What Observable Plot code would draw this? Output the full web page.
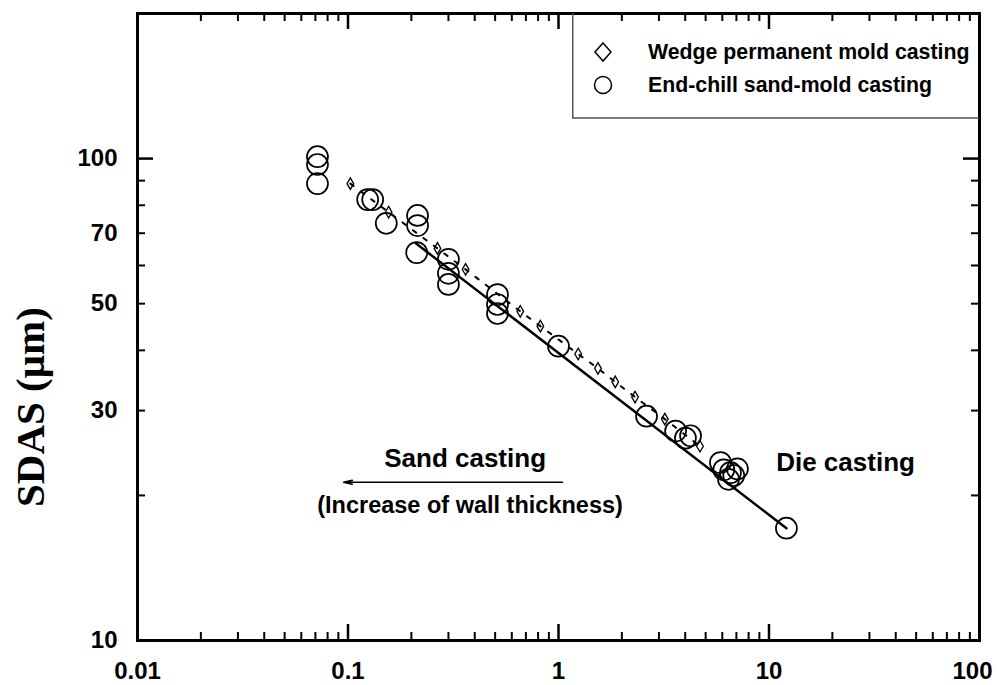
<!DOCTYPE html>
<html><head><meta charset="utf-8">
<script src="https://cdn.jsdelivr.net/npm/d3@7"></script>
<script src="https://cdn.jsdelivr.net/npm/@observablehq/plot@0.6"></script>
<style>
body{margin:0;background:#fff;}
#wrap{position:relative;width:997px;height:685px;}
#legend{position:absolute;left:572px;top:13px;}
</style></head><body><div id="wrap"></div>
<script>
// End-chill sand-mold casting (circles): wall thickness vs SDAS (µm)
const circleX = [0.0716, 0.0716, 0.0716, 0.124, 0.131, 0.152, 0.214, 0.214, 0.212, 0.30, 0.30, 0.30, 0.513, 0.513, 0.513, 1.0, 2.62, 3.6, 4.01, 4.24, 5.88, 6.1, 6.42, 6.56, 6.8, 7.08, 12.1];
const circleY = [100.9, 97.2, 88.7, 82.2, 82.2, 73.4, 76.2, 72.6, 63.8, 61.8, 57.8, 54.8, 52.2, 49.8, 47.7, 40.8, 29.2, 27.2, 26.3, 26.6, 23.4, 22.6, 21.6, 22.3, 22.0, 22.7, 17.1];
// Wedge permanent mold casting (small diamonds, dashed trend)
const wedgeX = [0.1026, 0.156, 0.266, 0.362, 0.658, 0.82, 1.24, 1.54, 1.86, 2.31, 3.2, 4.7];
const wedgeY = [88.7, 77.4, 65.1, 58.9, 48.2, 44.9, 39.3, 36.7, 34.4, 32.0, 28.8, 25.3];
// Solid fitted line
const fitX = [0.21, 12.1];
const fitY = [66.7, 17.1];
// Tick values and labels
const xLabels = [0.01, 0.1, 1, 10];
const xLastLabel = [100];
const xMajor = [0.01, 0.1, 1, 10, 100];
const xMinor = [0.01, 0.1, 1, 10].flatMap(d => [2,3,4,5,6,7,8,9].map(k => +(d * k).toPrecision(3)));
const yLabels = [10, 30, 50, 70, 100];
const yMajor = [10, 100];
const yMinor = [20, 30, 40, 50, 60, 70, 80, 90, 200];
// Annotations (data coordinates)
const sandText = ["Sand casting"], sandX = [0.36], sandY = [23.8];
const incText = ["(Increase of wall thickness)"], incX = [0.38], incY = [19.03];
const dieText = ["Die casting"], dieX = [23.1], dieY = [23.4];
const arrowX1 = [1.045], arrowX2 = [0.0952], arrowY = [21.3];
const yTitle = ["SDAS (\u03bcm)"], yTitleAt = [30.5];
const legendLabels = ["Wedge permanent mold casting", "End-chill sand-mold casting"];

const W = 997, H = 685, mL = 137, mR = 18, mT = 13, mB = 45;
const innerW = W - mL - mR, innerH = H - mT - mB;
const sans = "Liberation Sans, Arial, Helvetica, sans-serif";

const chart = Plot.plot({
  width: W, height: H,
  marginLeft: mL, marginRight: mR, marginTop: mT, marginBottom: mB,
  style: {fontFamily: sans, fontSize: "24px", fontWeight: "bold", background: "#fff", color: "#000"},
  x: {type: "log", domain: [0.01, 100], label: null},
  y: {type: "log", domain: [10, 200], label: null},
  marks: [
    // inward ticks
    Plot.tickX(xMinor, {x: d => d, insetTop: innerH - 8, stroke: "#000", strokeWidth: 2}),
    Plot.tickX(xMinor, {x: d => d, insetBottom: innerH - 8, stroke: "#000", strokeWidth: 2}),
    Plot.tickX(xMajor, {x: d => d, insetTop: innerH - 16, stroke: "#000", strokeWidth: 2.5}),
    Plot.tickX(xMajor, {x: d => d, insetBottom: innerH - 16, stroke: "#000", strokeWidth: 2.5}),
    Plot.tickY(yMinor, {y: d => d, insetRight: innerW - 8, stroke: "#000", strokeWidth: 2}),
    Plot.tickY(yMinor, {y: d => d, insetLeft: innerW - 8, stroke: "#000", strokeWidth: 2}),
    Plot.tickY(yMajor, {y: d => d, insetRight: innerW - 16, stroke: "#000", strokeWidth: 2.5}),
    Plot.tickY(yMajor, {y: d => d, insetLeft: innerW - 16, stroke: "#000", strokeWidth: 2.5}),
    Plot.axisX(xLabels, {anchor: "bottom", tickSize: 0, tickPadding: 21, tickFormat: d => String(d), fontSize: 24, fontWeight: "bold", label: null}),
    Plot.axisX(xLastLabel, {anchor: "bottom", tickSize: 0, tickPadding: 21, dx: -7, tickFormat: d => String(d), fontSize: 24, fontWeight: "bold", label: null}),
    Plot.axisY(yLabels, {anchor: "left", tickSize: 0, tickPadding: 20, tickFormat: d => String(d), fontSize: 24, fontWeight: "bold", label: null}),
    // data
    Plot.line(wedgeX, {x: wedgeX, y: wedgeY, stroke: "#000", strokeWidth: 2, strokeDasharray: "4,9"}),
    Plot.dot(wedgeX, {x: wedgeX, y: wedgeY, symbol: "diamond", r: 3.5, stroke: "#000", strokeWidth: 1.3, fill: "none"}),
    Plot.line(fitX, {x: fitX, y: fitY, stroke: "#000", strokeWidth: 2.5}),
    Plot.dot(circleX, {x: circleX, y: circleY, r: 10.5, stroke: "#000", strokeWidth: 1.7, fill: "none"}),
    // annotations
    Plot.text(sandText, {x: sandX, y: sandY, text: d => d, fontSize: 26, fontWeight: "bold", fontFamily: sans}),
    Plot.text(incText, {x: incX, y: incY, text: d => d, fontSize: 23.5, fontWeight: "bold", fontFamily: sans}),
    Plot.text(dieText, {x: dieX, y: dieY, text: d => d, fontSize: 26, fontWeight: "bold", fontFamily: sans}),
    Plot.arrow(arrowY, {x1: arrowX1, x2: arrowX2, y1: arrowY, y2: arrowY, stroke: "#000", strokeWidth: 1.5, headLength: 9, headAngle: 25}),
    Plot.text(yTitle, {frameAnchor: "left", y: yTitleAt, dx: -107, rotate: -90, textAnchor: "middle", text: d => d, fontSize: 41, fontWeight: "bold", fontFamily: "Liberation Serif, Times New Roman, serif"}),
    Plot.frame({stroke: "#000", strokeWidth: 3})
  ]
});
const wrap = document.getElementById("wrap");
wrap.appendChild(chart);

// Legend overlay inside plot area
const ns = "http://www.w3.org/2000/svg";
const lg = document.createElementNS(ns, "svg");
lg.setAttribute("id", "legend");
lg.setAttribute("width", 407); lg.setAttribute("height", 106);
lg.innerHTML = `
  <line x1="0.75" y1="0" x2="0.75" y2="105" stroke="#555" stroke-width="1.5"/>
  <line x1="0" y1="105" x2="407" y2="105" stroke="#555" stroke-width="1.5"/>
  <path d="M31,30 L39,39 L31,48 L23,39 Z" fill="none" stroke="#000" stroke-width="1.5"/>
  <circle cx="31" cy="72" r="8.5" fill="none" stroke="#000" stroke-width="1.5"/>
  <text x="76" y="39" dy="0.35em" font-family="${sans}" font-weight="bold" font-size="21.3">${legendLabels[0]}</text>
  <text x="76" y="72" dy="0.35em" font-family="${sans}" font-weight="bold" font-size="21.3">${legendLabels[1]}</text>`;
wrap.appendChild(lg);
</script>
</body></html>
